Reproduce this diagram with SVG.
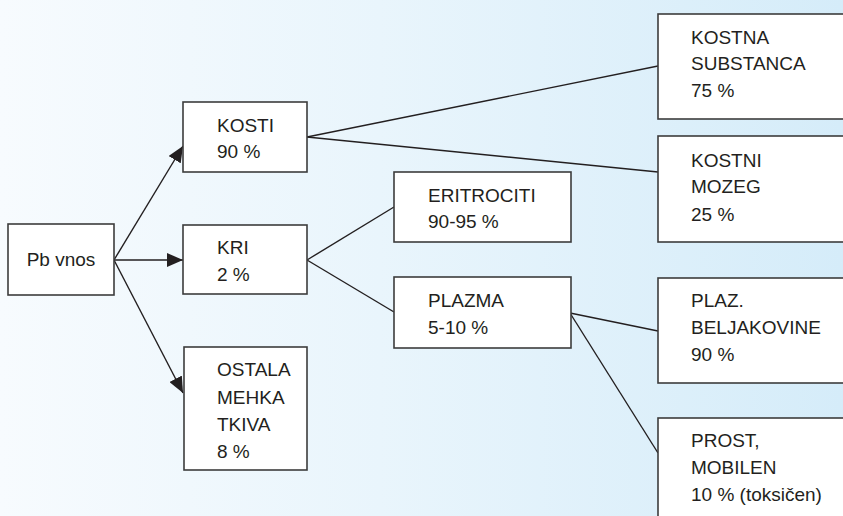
<svg xmlns="http://www.w3.org/2000/svg" width="843" height="516" viewBox="0 0 843 516">
<defs>
<linearGradient id="bg" x1="0" y1="0" x2="1" y2="0">
<stop offset="0" stop-color="#f7fbfe"/>
<stop offset="0.45" stop-color="#e9f5fc"/>
<stop offset="1" stop-color="#d5ecf9"/>
</linearGradient>
<marker id="arr" viewBox="0 0 16 14" refX="16" refY="7" markerWidth="16" markerHeight="14" markerUnits="userSpaceOnUse" orient="auto">
<path d="M0,0 L16,7 L0,14 Z" fill="#231f20"/>
</marker>
<style>
.box{fill:#ffffff;stroke:#3c3c3c;stroke-width:1.6}
.t{font-family:"Liberation Sans",Arial,sans-serif;font-size:19px;fill:#231f20}
.c{fill:none;stroke:#231f20;stroke-width:1.4}
</style>
</defs>
<rect x="0" y="0" width="843" height="516" fill="url(#bg)"/>
<g id="connectors">
<line class="c" x1="114" y1="260" x2="183" y2="146" marker-end="url(#arr)"/>
<line class="c" x1="114" y1="260" x2="183" y2="260" marker-end="url(#arr)"/>
<line class="c" x1="114" y1="260" x2="183" y2="393" marker-end="url(#arr)"/>
<line class="c" x1="307" y1="137" x2="658" y2="66"/>
<line class="c" x1="307" y1="137" x2="658" y2="172"/>
<line class="c" x1="307" y1="260" x2="394" y2="207"/>
<line class="c" x1="307" y1="260" x2="394" y2="312"/>
<line class="c" x1="570" y1="313" x2="658" y2="331"/>
<line class="c" x1="570" y1="313" x2="658" y2="453"/>
</g>
<g id="pb-vnos">
<rect class="box" x="8" y="224" width="106" height="71"/>
<text class="t" x="61" y="266" text-anchor="middle">Pb vnos</text>
</g>
<g id="kosti">
<rect class="box" x="183" y="102" width="124" height="70"/>
<text class="t" x="217" y="132">KOSTI</text>
<text class="t" x="217" y="158">90 %</text>
</g>
<g id="kri">
<rect class="box" x="183" y="225" width="124" height="69"/>
<text class="t" x="217" y="254">KRI</text>
<text class="t" x="217" y="281">2 %</text>
</g>
<g id="ostala">
<rect class="box" x="184" y="347" width="123" height="123"/>
<text class="t" x="217" y="376">OSTALA</text>
<text class="t" x="217" y="404">MEHKA</text>
<text class="t" x="217" y="431">TKIVA</text>
<text class="t" x="217" y="458">8 %</text>
</g>
<g id="eritrociti">
<rect class="box" x="394" y="172" width="177" height="70"/>
<text class="t" x="428" y="202">ERITROCITI</text>
<text class="t" x="428" y="228">90-95 %</text>
</g>
<g id="plazma">
<rect class="box" x="394" y="277" width="177" height="71"/>
<text class="t" x="428" y="307">PLAZMA</text>
<text class="t" x="428" y="334">5-10 %</text>
</g>
<g id="kostna">
<rect class="box" x="658" y="14" width="200" height="105"/>
<text class="t" x="691" y="44">KOSTNA</text>
<text class="t" x="691" y="70">SUBSTANCA</text>
<text class="t" x="691" y="97">75 %</text>
</g>
<g id="kostni">
<rect class="box" x="658" y="136" width="200" height="106"/>
<text class="t" x="691" y="167">KOSTNI</text>
<text class="t" x="691" y="193">MOZEG</text>
<text class="t" x="691" y="221">25 %</text>
</g>
<g id="plaz">
<rect class="box" x="658" y="278" width="200" height="105"/>
<text class="t" x="691" y="307">PLAZ.</text>
<text class="t" x="691" y="334">BELJAKOVINE</text>
<text class="t" x="691" y="361">90 %</text>
</g>
<g id="prost">
<rect class="box" x="658" y="418" width="200" height="120"/>
<text class="t" x="691" y="447">PROST,</text>
<text class="t" x="691" y="474">MOBILEN</text>
<text class="t" x="691" y="501">10 % (toksičen)</text>
</g>
</svg>
